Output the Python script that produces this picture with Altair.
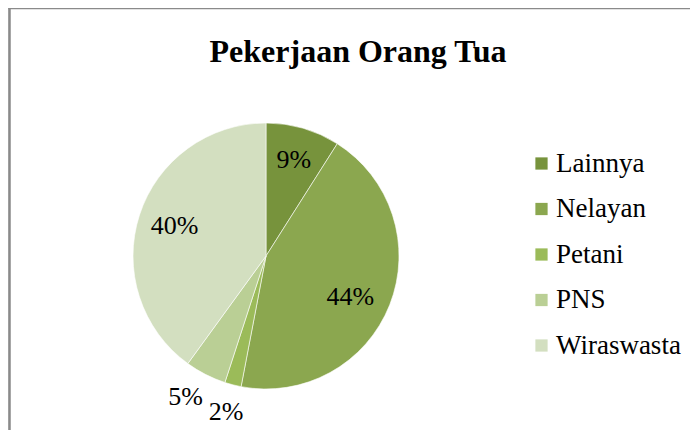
import altair as alt
import pandas as pd

title_text = "Pekerjaan Orang Tua"
categories = ["Lainnya", "Nelayan", "Petani", "PNS", "Wiraswasta"]
values = [9, 44, 2, 5, 40]
labels = ["9%", "44%", "2%", "5%", "40%"]
colors = ["#77933C", "#8BA74F", "#9BBB59", "#BACF95", "#D3DFC0"]

df = pd.DataFrame({"cat": categories, "value": values, "label": labels,
                   "idx": list(range(len(categories)))})

W, H = 682, 422
CX, CY = 258, 248
R = 133
BORDER = "#8A8A8A"

arcs = alt.Chart(df).mark_arc(radius=R, stroke="#ffffff", strokeWidth=0.6).encode(
    theta=alt.Theta("value:Q", stack=True),
    order=alt.Order("idx:Q"),
    x=alt.value(CX), y=alt.value(CY),
    color=alt.Color(
        "cat:N",
        scale=alt.Scale(domain=categories, range=colors),
        sort=categories,
        legend=alt.Legend(
            title=None, orient="none", legendX=520, legendY=142,
            symbolType="square", symbolSize=150, symbolStrokeWidth=0,
            labelFont="Liberation Serif", labelFontSize=27, labelColor="#000000",
            rowPadding=17.5, labelOffset=1, padding=0, labelLimit=300,
        ),
    ),
)

label_base = alt.Chart(df).transform_window(
    cum="sum(value)", sort=[alt.SortField("idx", order="ascending")]
).transform_calculate(
    mid="datum.cum - datum.value / 2",
)

def label_layer(cat, radius, dx=0, dy=0):
    return label_base.transform_filter(alt.datum.cat == cat).mark_text(
        font="Liberation Serif", fontSize=26, color="#000000", dx=dx, dy=dy
    ).encode(
        theta=alt.Theta("mid:Q", stack=None),
        x=alt.value(CX), y=alt.value(CY),
        radius=alt.value(radius),
        text="label:N",
    )

lab_lainnya = label_layer("Lainnya", 100)
lab_nelayan = label_layer("Nelayan", 96, dx=-5, dy=6)
lab_petani = label_layer("Petani", 161)
lab_pns = label_layer("PNS", 162, dx=-7, dy=-3)
lab_wira = label_layer("Wiraswasta", 96)

title = alt.Chart(pd.DataFrame({"t": [title_text]})).mark_text(
    font="Liberation Serif", fontSize=32, fontWeight="bold", color="#000000",
    baseline="alphabetic", align="center",
).encode(x=alt.value(350), y=alt.value(54), text="t:N")

frame = pd.DataFrame({"k": [0]})
left_rule = alt.Chart(frame).mark_rule(color=BORDER, strokeWidth=2.5).encode(
    x=alt.value(1.5), y=alt.value(0), y2=alt.value(H + 20))
top_rule = alt.Chart(frame).mark_rule(color=BORDER, strokeWidth=2.5).encode(
    x=alt.value(0.3), x2=alt.value(W + 20), y=alt.value(0))

chart = alt.layer(
    left_rule, top_rule, arcs,
    lab_lainnya, lab_nelayan, lab_petani, lab_pns, lab_wira, title
).properties(
    width=W, height=H, padding=0, autosize=alt.AutoSizeParams(type="none"),
).configure_view(stroke=None).configure(background="#ffffff")

chart.save("out.html", embed_options={"renderer": "svg", "actions": False})
